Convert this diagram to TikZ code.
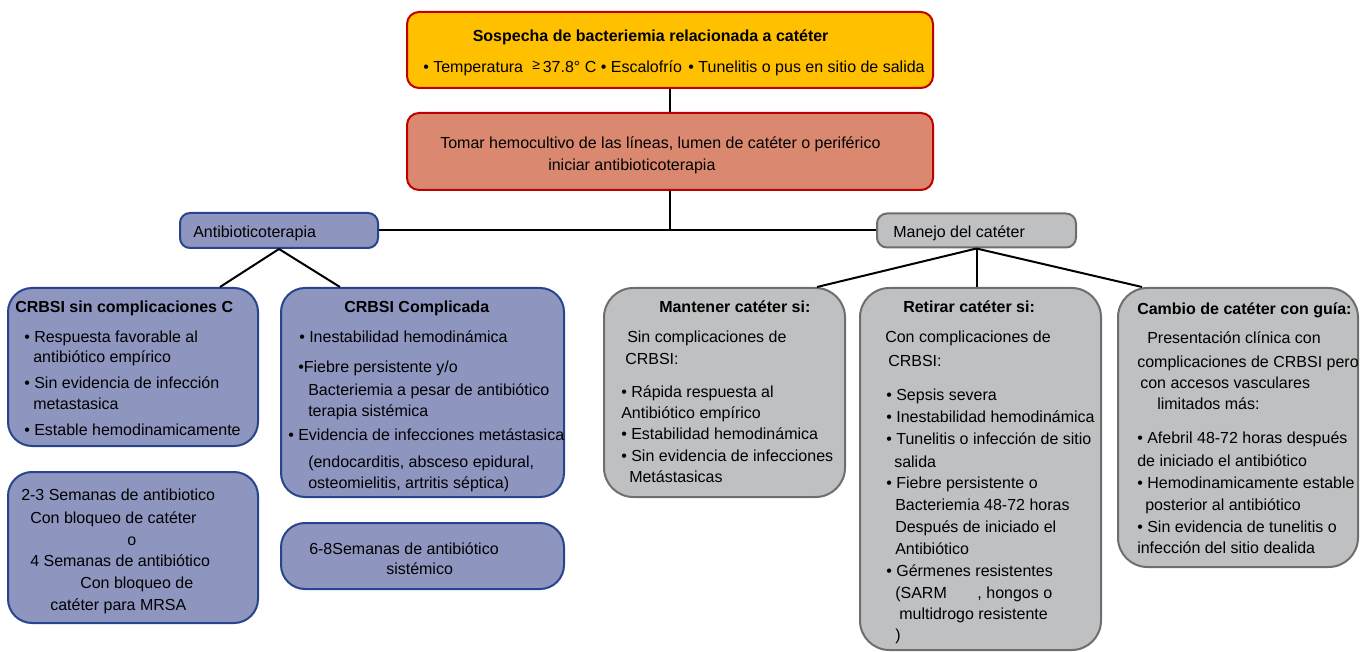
\documentclass[tikz,border=0pt]{standalone}
\usepackage{fontspec}
\setmainfont{Liberation Sans}
\newcounter{tlc}
\definecolor{yel}{RGB}{255,192,0}
\definecolor{redb}{RGB}{192,0,0}
\definecolor{salmon}{RGB}{218,137,112}
\definecolor{bluef}{RGB}{142,150,192}
\definecolor{blueb}{RGB}{40,68,140}
\definecolor{greyf}{RGB}{190,192,193}
\definecolor{greyb}{RGB}{110,110,110}
\tikzset{
  boxbase/.style={draw, rectangle, line width=1.5pt, inner sep=0pt},
  topbox/.style={boxbase, draw=redb, fill=yel, rounded corners=9pt},
  redbox/.style={boxbase, draw=redb, fill=salmon, rounded corners=9pt},
  bluesm/.style={boxbase, draw=blueb, fill=bluef, rounded corners=7.5pt},
  bluebig/.style={boxbase, draw=blueb, fill=bluef, rounded corners=18pt},
  greysm/.style={boxbase, draw=greyb, fill=greyf, rounded corners=7.5pt},
  greybig/.style={boxbase, draw=greyb, fill=greyf, rounded corners=22pt},
  conn/.style={line width=1.5pt, draw=black},
  tl/.style={anchor=base west, inner sep=0pt, font=\fontsize{12}{14}\selectfont}
}
\newcommand\tl[3]{\stepcounter{tlc}\node[tl] (t\arabic{tlc}) at (#1,#2+5) {#3};}
\begin{document}
\begin{tikzpicture}[x=0.75pt,y=-0.75pt]
\useasboundingbox (0,0) rectangle (1360,652);

% boxes
\node[topbox, minimum width=394.5pt, minimum height=57pt] (sus) at (670,50) {};
\node[redbox, minimum width=394.5pt, minimum height=57.75pt] (hem) at (670,151.5) {};
\node[bluesm, minimum width=148.5pt, minimum height=26.25pt] (anti) at (279,230.5) {};
\node[greysm, minimum width=149.25pt, minimum height=25.5pt] (mane) at (976.5,230.5) {};
\node[bluebig, minimum width=187.5pt, minimum height=118.5pt] (sin) at (133,367) {};
\node[bluebig, minimum width=212.25pt, minimum height=156.75pt] (comp) at (422.5,392.5) {};
\node[bluebig, minimum width=187.5pt, minimum height=113.25pt] (wk1) at (133,547.5) {};
\node[bluebig, minimum width=212.25pt, minimum height=49.5pt] (wk2) at (422.5,556) {};
\node[greybig, minimum width=180.75pt, minimum height=156.75pt] (mant) at (724.5,392.5) {};
\node[greybig, minimum width=180.75pt, minimum height=271.5pt] (ret) at (980.5,469) {};
\node[greybig, minimum width=180pt, minimum height=209.25pt] (camb) at (1238,427.5) {};

% connectors
\draw[conn] (sus.south) -- (hem.north);
\coordinate (jn) at (hem.south |- anti.east);
\draw[conn] (hem.south) -- (jn);
\draw[conn] (anti.east) -- (mane.west);
\draw[conn] (anti.south) -- ([xshift=65.25pt]sin.north);
\draw[conn] (anti.south) -- ([xshift=-61.9pt]comp.north);
\draw[conn] (mane.south) -- ([xshift=69.4pt]mant.north);
\draw[conn] (mane.south) -- (mane.south |- ret.north);
\draw[conn] (mane.south) -- ([xshift=-72pt]camb.north);

% top
\tl{472.5}{37}{\textbf{Sospecha de bacteriemia relacionada a catéter}}
\tl{423}{68}{• Temperatura\hspace{7pt}\raisebox{2.5pt}{\fontsize{10.5}{10.5}\selectfont ≥}\hspace{2pt}37.8° C • Escalofrío\hspace{1.5pt} • Tunelitis o pus en sitio de salida}
\tl{440}{144}{Tomar hemocultivo de las líneas, lumen de catéter o periférico}
\tl{548}{166}{iniciar antibioticoterapia}
\tl{193}{233}{Antibioticoterapia}
\tl{893}{233}{Manejo del catéter}

% sin complicaciones
\tl{15}{308}{\textbf{CRBSI sin complicaciones C}}
\tl{24}{337}{• Respuesta favorable al}
\tl{33}{358}{antibiótico empírico}
\tl{24}{383}{• Sin evidencia de infección}
\tl{33}{404}{metastasica}
\tl{24}{430}{• Estable hemodinamicamente}

% complicada
\tl{344}{308}{\textbf{CRBSI Complicada}}
\tl{299}{337}{• Inestabilidad hemodinámica}
\tl{298}{367}{•Fiebre persistente y/o}
\tl{308}{390}{Bacteriemia a pesar de antibiótico}
\tl{308}{411}{terapia sistémica}
\tl{288}{435}{• Evidencia de infecciones metástasica}
\tl{308}{462}{(endocarditis, absceso epidural,}
\tl{308}{483}{osteomielitis, artritis séptica)}

% weeks 1
\tl{21}{495}{2-3 Semanas de antibiotico}
\tl{30}{518}{Con bloqueo de catéter}
\tl{127}{540}{o}
\tl{30}{561}{4 Semanas de antibiótico}
\tl{80}{583}{Con bloqueo de}
\tl{50}{605}{catéter para MRSA}

% weeks 2
\tl{309}{549}{6-8Semanas de antibiótico}
\tl{386}{569}{sistémico}

% mantener
\tl{659}{308}{\textbf{Mantener catéter si:}}
\tl{627}{337}{Sin complicaciones de}
\tl{625}{359}{CRBSI:}
\tl{621}{392}{• Rápida respuesta al}
\tl{621}{413}{Antibiótico empírico}
\tl{621}{434}{• Estabilidad hemodinámica}
\tl{621}{456}{• Sin evidencia de infecciones}
\tl{629}{477}{Metástasicas}

% retirar
\tl{903}{308}{\textbf{Retirar catéter si:}}
\tl{885}{338}{Con complicaciones de}
\tl{888}{361}{CRBSI:}
\tl{886}{395}{• Sepsis severa}
\tl{886}{417}{• Inestabilidad hemodinámica}
\tl{886}{439}{• Tunelitis o infección de sitio}
\tl{894}{462}{salida}
\tl{886}{483}{• Fiebre persistente o}
\tl{895}{505}{Bacteriemia 48-72 horas}
\tl{895}{527}{Después de iniciado el}
\tl{895}{549}{Antibiótico}
\tl{886}{571}{• Gérmenes resistentes}
\tl{895}{593}{(SARM\hspace{23pt}, hongos o}
\tl{899}{614}{multidrogo resistente}
\tl{895}{635}{)}

% cambio
\tl{1137}{310}{\textbf{Cambio de catéter con guía:}}
\tl{1147}{339}{Presentación clínica con}
\tl{1137}{362}{complicaciones de CRBSI pero}
\tl{1140}{383}{con accesos vasculares}
\tl{1157}{404}{limitados más:}
\tl{1137}{438}{• Afebril 48-72 horas después}
\tl{1137}{461}{de iniciado el antibiótico}
\tl{1137}{483}{• Hemodinamicamente estable}
\tl{1145}{505}{posterior al antibiótico}
\tl{1137}{527}{• Sin evidencia de tunelitis o}
\tl{1137}{548}{infección del sitio dealida}
\end{tikzpicture}
\end{document}
